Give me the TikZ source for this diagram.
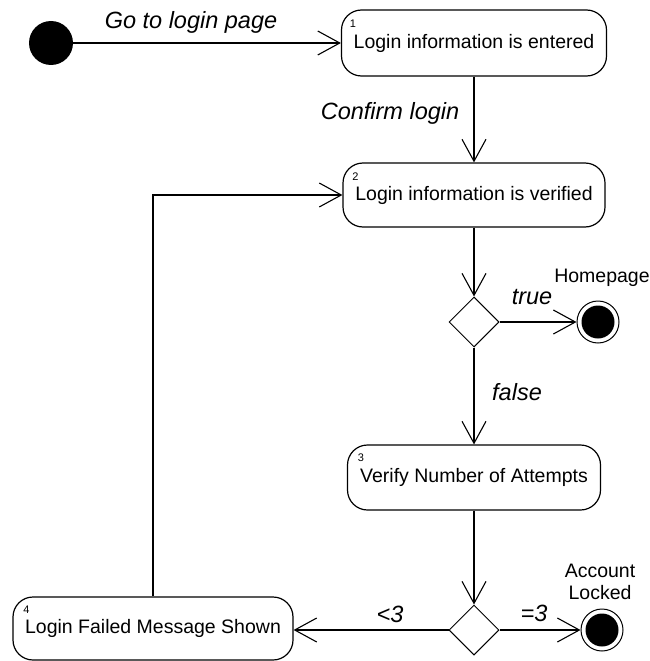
\documentclass[tikz,border=0pt]{standalone}
\usepackage{fontspec}
\setmainfont{Liberation Sans}
\usetikzlibrary{arrows.meta,shapes.geometric}

\begin{document}
\begin{tikzpicture}[x=1pt,y=-1pt,
  act/.style={draw, line width=1.2pt, rounded corners=20pt, inner sep=0pt,
    font=\fontsize{19.5}{22}\selectfont},
  num/.style={font=\fontsize{11}{12}\selectfont, inner sep=0pt},
  lbl/.style={font=\fontsize{23.5}{26}\itshape\selectfont, inner sep=0pt},
  statename/.style={font=\fontsize{19.5}{22}\selectfont, inner sep=0pt, align=center},
  decision/.style={diamond, draw, line width=1pt, minimum width=50pt,
    minimum height=50pt, inner sep=0pt},
  initstate/.style={circle, fill=black, minimum size=44pt, inner sep=0pt},
  finalstate/.style={circle, draw, line width=1pt, minimum size=42pt, inner sep=0pt,
    path picture={\fill (path picture bounding box.center) circle (16.5pt);}},
  arr/.style={line width=1.1pt,
    -{Straight Barb[length=22pt,width=24pt,line width=1.1pt]}}
]
\useasboundingbox (0,0) rectangle (650,661);

% states and decisions
\node[initstate] (init) at (51,43) {};
\node[act, minimum width=265pt, minimum height=66pt] (enter) at (474,43)
  {Login information is entered};
\node[act, minimum width=262pt, minimum height=64pt] (verify) at (474,195)
  {Login information is verified};
\node[decision] (ok) at (474,322) {};
\node[finalstate] (home) at (598,322) {};
\node[act, minimum width=253pt, minimum height=65pt] (count) at (474,477.5)
  {Verify Number of Attempts};
\node[decision] (tries) at (474,630) {};
\node[finalstate] (locked) at (602,630) {};
\node[act, minimum width=280pt, minimum height=63pt] (failed) at (153,628.5)
  {Login Failed Message Shown};

% step numbers
\node[num] (n1) at ([xshift=12pt,yshift=-14pt]enter.north west) {1};
\node[num] (n2) at ([xshift=13pt,yshift=-14pt]verify.north west) {2};
\node[num] (n3) at ([xshift=14pt,yshift=-13pt]count.north west) {3};
\node[num] (n4) at ([xshift=14pt,yshift=-13pt]failed.north west) {4};

% transitions
\draw[arr] (init.east) -- (enter.west);
\draw[arr] (enter.south) -- (verify.north);
\draw[arr] (verify.south) -- (ok.north);
\draw[arr] (ok.east) -- (home.west);
\draw[arr] (ok.south) -- (count.north);
\draw[arr] (count.south) -- (tries.north);
\draw[arr] (tries.east) -- (locked.west);
\draw[arr] (tries.west) -- (tries.west -| failed.east);
\draw[arr] (failed.north) |- (verify.west);

% guards and labels
\node[lbl] (l1) at (191,22) {Go to login page};
\node[lbl] (l2) at (390,113) {Confirm login};
\node[lbl] (l3) at (532,297) {true};
\node[lbl] (l4) at (517,392) {false};
\node[lbl] (l5) at (390,614) {<3};
\node[lbl] (l6) at (534,613) {=3};
\node[statename] (c1) at (602,278) {Homepage};
\node[statename] (c2) at (600,582) {Account\\Locked};
\end{tikzpicture}
\end{document}
